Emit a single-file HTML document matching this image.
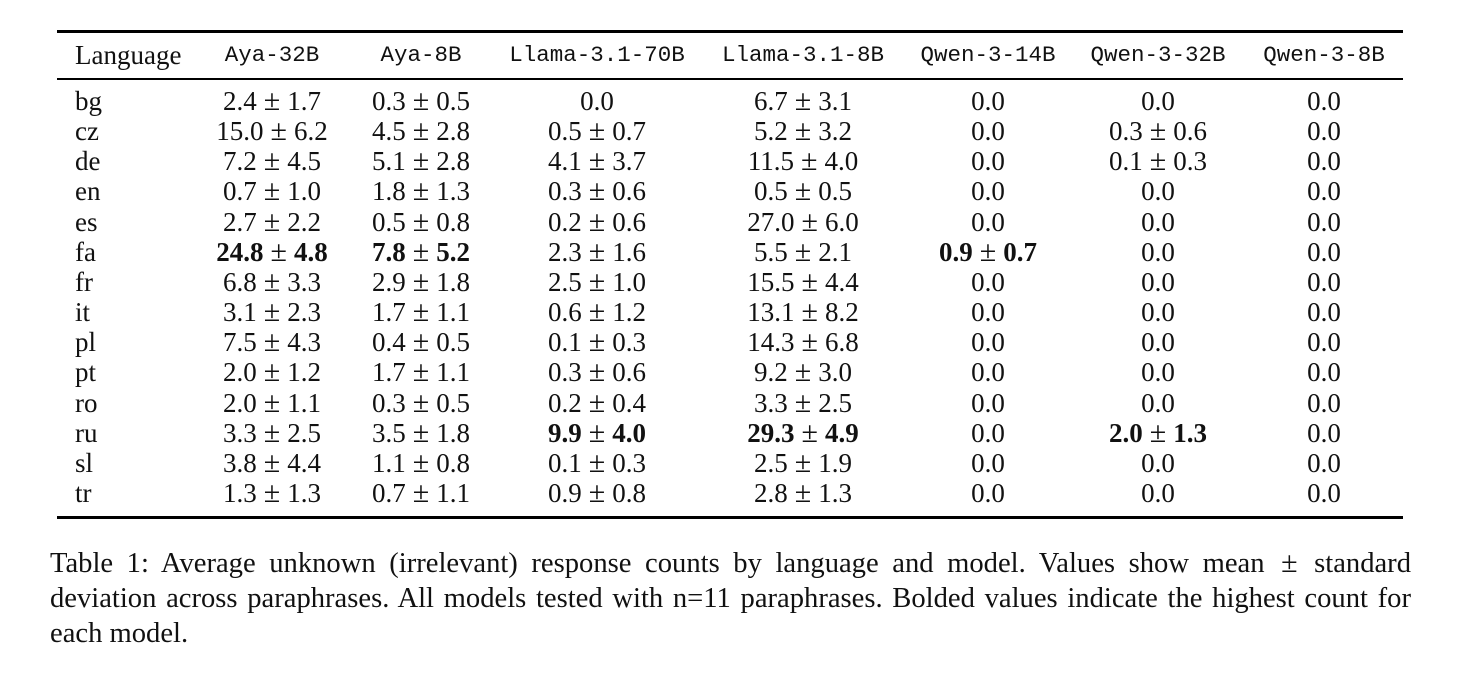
<!DOCTYPE html>
<html><head><meta charset="utf-8">
<style>
body{margin:0;width:1458px;height:685px;background:#fff;position:relative;overflow:hidden;font-family:"Liberation Serif",serif;color:#111}
.c{position:absolute;white-space:nowrap;font-size:27px;line-height:30px;transform:translate(-50%,-50%)}
.l{position:absolute;white-space:nowrap;font-size:27px;line-height:30px;transform:translateY(-50%)}
.h{font-family:"Liberation Mono","DejaVu Sans Mono",monospace;font-size:22.5px}
.pm{display:inline-block;margin:0 7px;font-size:30px;line-height:20px}
.cpm{display:inline-block;margin:0 3px;font-size:30px;line-height:20px}
.rule{position:absolute;left:57px;width:1346px;background:#000}
#cap{position:absolute;left:50px;top:546px;width:1361px;font-size:28.6px;line-height:35px;text-align:justify}
</style></head><body>
<div class="rule" style="top:30px;height:3px"></div>
<div class="rule" style="top:78px;height:2px"></div>
<div class="rule" style="top:516px;height:3px"></div>
<div id="cap">Table 1: Average unknown (irrelevant) response counts by language and model. Values show mean <span class="cpm">±</span> standard deviation across paraphrases. All models tested with n=11 paraphrases. Bolded values indicate the highest count for each model.</div>
<script>
const headers=["Aya-32B","Aya-8B","Llama-3.1-70B","Llama-3.1-8B","Qwen-3-14B","Qwen-3-32B","Qwen-3-8B"];
const langs=["bg","cz","de","en","es","fa","fr","it","pl","pt","ro","ru","sl","tr"];
const cells=[
["2.4 ± 1.7","0.3 ± 0.5","0.0","6.7 ± 3.1","0.0","0.0","0.0"],
["15.0 ± 6.2","4.5 ± 2.8","0.5 ± 0.7","5.2 ± 3.2","0.0","0.3 ± 0.6","0.0"],
["7.2 ± 4.5","5.1 ± 2.8","4.1 ± 3.7","11.5 ± 4.0","0.0","0.1 ± 0.3","0.0"],
["0.7 ± 1.0","1.8 ± 1.3","0.3 ± 0.6","0.5 ± 0.5","0.0","0.0","0.0"],
["2.7 ± 2.2","0.5 ± 0.8","0.2 ± 0.6","27.0 ± 6.0","0.0","0.0","0.0"],
["24.8 ± 4.8","7.8 ± 5.2","2.3 ± 1.6","5.5 ± 2.1","0.9 ± 0.7","0.0","0.0"],
["6.8 ± 3.3","2.9 ± 1.8","2.5 ± 1.0","15.5 ± 4.4","0.0","0.0","0.0"],
["3.1 ± 2.3","1.7 ± 1.1","0.6 ± 1.2","13.1 ± 8.2","0.0","0.0","0.0"],
["7.5 ± 4.3","0.4 ± 0.5","0.1 ± 0.3","14.3 ± 6.8","0.0","0.0","0.0"],
["2.0 ± 1.2","1.7 ± 1.1","0.3 ± 0.6","9.2 ± 3.0","0.0","0.0","0.0"],
["2.0 ± 1.1","0.3 ± 0.5","0.2 ± 0.4","3.3 ± 2.5","0.0","0.0","0.0"],
["3.3 ± 2.5","3.5 ± 1.8","9.9 ± 4.0","29.3 ± 4.9","0.0","2.0 ± 1.3","0.0"],
["3.8 ± 4.4","1.1 ± 0.8","0.1 ± 0.3","2.5 ± 1.9","0.0","0.0","0.0"],
["1.3 ± 1.3","0.7 ± 1.1","0.9 ± 0.8","2.8 ± 1.3","0.0","0.0","0.0"]];
const bold=[[5,0],[5,1],[11,2],[11,3],[5,4],[11,5]];
const colX=[272,421,597,803,988,1158,1324];
const headY=55,row0=101,step=30.15;
function mk(cls,x,y){const d=document.createElement('div');d.className=cls;d.style.left=x+'px';d.style.top=y+'px';document.body.appendChild(d);return d;}
let e=mk('l',75,headY);e.textContent='Language';


headers.forEach((h,j)=>{const d=mk('c h',colX[j],headY);d.textContent=h;

});
langs.forEach((g,i)=>{const y=row0+i*step;
const d=mk('l',75,y);d.textContent=g;


cells[i].forEach((v,j)=>{const c=mk('c',colX[j],y);
const isB=bold.some(b=>b[0]===i&&b[1]===j);
const p=v.split(' ± ');
if(p.length===2){c.innerHTML=(isB?'<b>'+p[0]+'</b>':p[0])+'<span class="pm">±</span>'+(isB?'<b>'+p[1]+'</b>':p[1]);}else{c.textContent=v;}

});});
</script>
</body></html>
